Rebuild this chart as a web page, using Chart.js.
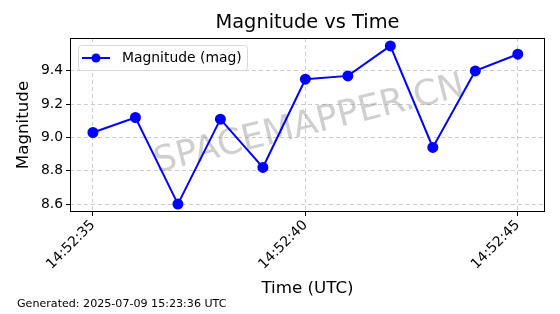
<!DOCTYPE html>
<html>
<head>
<meta charset="utf-8">
<script src="https://cdn.jsdelivr.net/npm/chart.js@4"></script>
<style>
  html, body { margin: 0; padding: 0; background: #fff; }
  #wrap { position: relative; width: 560px; height: 314px; }
</style>
</head>
<body>
<div id="wrap"><canvas id="magChart" width="560" height="314"></canvas></div>
<script>
// seconds past 14:52:00 UTC
const seconds = [35, 36, 37, 38, 39, 40, 41, 42, 43, 44, 45];
const magnitudes = [9.03, 9.12, 8.60, 9.11, 8.82, 9.35, 9.37, 9.55, 8.94, 9.40, 9.50];
const xTicks = [35, 40, 45];
const yTicks = [8.6, 8.8, 9.0, 9.2, 9.4];
const timePrefix = '14:52:';

const FONT = "'DejaVu Sans', sans-serif";

// title, watermark, frame, legend and footer drawn by hand to look like matplotlib
const extras = {
    id: 'extras',
    beforeDatasetsDraw(chart) {
        const ctx = chart.ctx;
        const a = chart.chartArea;
        ctx.save();
        ctx.translate((a.left + a.right) / 2 + 2, (a.top + a.bottom) / 2);
        ctx.rotate(-14 * Math.PI / 180);
        ctx.font = '35.5px ' + FONT;
        ctx.fillStyle = 'rgba(128,128,128,0.38)';
        ctx.textAlign = 'center';
        ctx.textBaseline = 'middle';
        ctx.fillText('SPACEMAPPER.CN', 0, 0);
        ctx.restore();
    },
    afterDraw(chart) {
        const ctx = chart.ctx;
        const a = chart.chartArea;
        ctx.save();
        // frame
        ctx.strokeStyle = '#000';
        ctx.lineWidth = 1;
        ctx.strokeRect(a.left + 0.5, a.top + 0.5, a.right - a.left - 1, a.bottom - a.top - 1);

        // title
        ctx.fillStyle = '#000';
        ctx.font = '19.4px ' + FONT;
        ctx.textAlign = 'center';
        ctx.textBaseline = 'middle';
        ctx.fillText('Magnitude vs Time', (a.left + a.right) / 2, 23);

        // legend
        const ds = chart.data.datasets[0];
        const lx = a.left + 8, ly = a.top + 7, lw = 169, lh = 25;
        ctx.fillStyle = 'rgba(255,255,255,0.8)';
        ctx.strokeStyle = '#d8d8d8';
        ctx.lineWidth = 1;
        ctx.beginPath();
        ctx.roundRect(lx + 0.5, ly + 0.5, lw, lh, 3);
        ctx.fill();
        ctx.stroke();
        const cy = ly + lh / 2 + 0.5;
        ctx.strokeStyle = ds.borderColor;
        ctx.lineWidth = 2;
        ctx.beginPath();
        ctx.moveTo(lx + 4, cy);
        ctx.lineTo(lx + 32, cy);
        ctx.stroke();
        ctx.fillStyle = ds.pointBackgroundColor;
        ctx.beginPath();
        ctx.arc(lx + 18, cy, 4.5, 0, Math.PI * 2);
        ctx.fill();
        ctx.fillStyle = '#000';
        ctx.font = '13.9px ' + FONT;
        ctx.textAlign = 'left';
        ctx.fillText(ds.label, lx + 44, cy);

        // footer
        ctx.font = '11.1px ' + FONT;
        ctx.textBaseline = 'middle';
        ctx.fillText('Generated: 2025-07-09 15:23:36 UTC', 17, 304);
        ctx.restore();
    }
};

const ctx = document.getElementById('magChart').getContext('2d');
new Chart(ctx, {
    type: 'line',
    data: {
        datasets: [{
            label: 'Magnitude (mag)',
            data: seconds.map((s, i) => ({ x: s, y: magnitudes[i] })),
            borderColor: '#0000ff',
            backgroundColor: '#0000ff',
            pointBackgroundColor: '#0000ff',
            pointBorderColor: '#0000ff',
            borderWidth: 2,
            pointRadius: 4.5,
            tension: 0
        }]
    },
    options: {
        responsive: false,
        animation: false,
        layout: { padding: { left: 8, right: 15, top: 38, bottom: 15 } },
        plugins: {
            legend: { display: false },
            title: { display: false },
            tooltip: { enabled: false }
        },
        scales: {
            x: {
                type: 'linear',
                min: 34.46,
                max: 45.64,
                afterBuildTicks: scale => { scale.ticks = xTicks.map(v => ({ value: v })); },
                afterFit: scale => { scale.height = 87; },
                ticks: {
                    color: '#000',
                    font: { family: FONT, size: 13.9 },
                    maxRotation: 45,
                    minRotation: 45,
                    padding: 1,
                    callback: v => timePrefix + String(v).padStart(2, '0')
                },
                grid: {
                    color: '#cccccc',
                    tickColor: '#000',
                    tickLength: 4,
                    tickBorderDash: []
                },
                border: { display: false, dash: [4, 3] },
                title: {
                    display: true,
                    text: 'Time (UTC)',
                    color: '#000',
                    font: { family: FONT, size: 16.7 },
                    padding: { top: 0, bottom: 0 }
                }
            },
            y: {
                min: 8.5525,
                max: 9.5975,
                afterBuildTicks: scale => { scale.ticks = yTicks.map(v => ({ value: v })); },
                afterFit: scale => { scale.width = 62; },
                ticks: {
                    color: '#000',
                    font: { family: FONT, size: 13.9 },
                    padding: 3,
                    callback: v => v.toFixed(1)
                },
                grid: {
                    color: '#cccccc',
                    tickColor: '#000',
                    tickLength: 4,
                    tickBorderDash: []
                },
                border: { display: false, dash: [4, 3] },
                title: {
                    display: true,
                    text: 'Magnitude',
                    color: '#000',
                    font: { family: FONT, size: 16.7 },
                    padding: { top: 6, bottom: 0 }
                }
            }
        }
    },
    plugins: [extras]
});
</script>
</body>
</html>
